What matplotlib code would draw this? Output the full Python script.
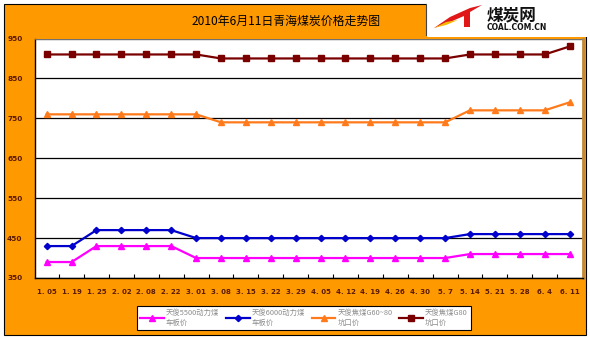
import matplotlib
matplotlib.use('Agg')
import matplotlib.pyplot as plt
from matplotlib.patches import Rectangle, Polygon
import numpy as np

plt.rcParams['font.family'] = ['Noto Sans CJK SC', 'DejaVu Sans']

# dates on the x axis
dates = ['1. 05', '1. 19', '1. 25', '2. 02', '2. 08', '2. 22', '3. 01', '3. 08',
         '3. 15', '3. 22', '3. 29', '4. 05', '4. 12', '4. 19', '4. 26', '4. 30',
         '5. 7', '5. 14', '5. 21', '5. 28', '6. 4', '6. 11']

# prices (yuan/ton)
power5500 = [390, 390, 430, 430, 430, 430, 400, 400, 400, 400, 400, 400, 400,
             400, 400, 400, 400, 410, 410, 410, 410, 410]
power6000 = [430, 430, 470, 470, 470, 470, 450, 450, 450, 450, 450, 450, 450,
             450, 450, 450, 450, 460, 460, 460, 460, 460]
coking6080 = [760, 760, 760, 760, 760, 760, 760, 740, 740, 740, 740, 740, 740,
              740, 740, 740, 740, 770, 770, 770, 770, 790]
coking80 = [910, 910, 910, 910, 910, 910, 910, 900, 900, 900, 900, 900, 900,
            900, 900, 900, 900, 910, 910, 910, 910, 930]

labels = ['天俊5500动力煤\n车板价', '天俊6000动力煤\n车板价',
          '天俊焦煤G60~80\n坑口价', '天俊焦煤G80\n坑口价']
yticks = [350, 450, 550, 650, 750, 850, 950]

W, H = 590, 339
fig = plt.figure(figsize=(W / 100, H / 100), dpi=100)
fig.patch.set_facecolor('white')

def fx(px):
    return px / W

def fy(py):
    return 1 - py / H

# orange chart background
fig.patches.append(Rectangle((fx(4), fy(335)), fx(582), 331 / H, transform=fig.transFigure,
                             facecolor='#FF9900', edgecolor='black', lw=0.8, zorder=-2))
# white logo box in the top right corner
fig.patches.append(Rectangle((fx(427), fy(37)), fx(170), 40 / H, transform=fig.transFigure,
                             facecolor='white', edgecolor='none', zorder=-1))
fig.add_artist(plt.Line2D([fx(426), fx(426)], [fy(35), fy(4)], color='#444444', lw=0.8,
                          transform=fig.transFigure, zorder=2))

# logo: red swoosh + site name
swoosh = Polygon([(fx(434), fy(28)), (fx(450), fy(17)), (fx(470), fy(8)), (fx(482), fy(5)),
                  (fx(470), fy(12)), (fx(470), fy(27)), (fx(464), fy(27)), (fx(464), fy(16)),
                  (fx(450), fy(22))],
                 closed=True, transform=fig.transFigure, facecolor='#E01818',
                 edgecolor='none', zorder=3)
fig.patches.append(swoosh)
fig.patches.append(Polygon([(fx(434), fy(28)), (fx(446), fy(22)), (fx(458), fy(20)),
                            (fx(446), fy(25))], closed=True, transform=fig.transFigure,
                           facecolor='#F5B800', edgecolor='none', zorder=3))
fig.text(fx(487), fy(15), '煤炭网', fontsize=12, fontweight='bold', color='#111111',
         ha='left', va='center', zorder=4)
fig.text(fx(487), fy(28), 'COAL.COM.CN', fontsize=5.5, fontweight='bold', color='#111111',
         ha='left', va='center', family='DejaVu Sans', zorder=4)

fig.text(fx(286), fy(21), '2010年6月11日青海煤炭价格走势图', fontsize=8.6, color='black',
         ha='center', va='center')

ax = fig.add_axes([fx(35), fy(278), fx(583 - 35), (278 - 38.5) / H])
ax.set_zorder(5)
ax.set_facecolor('white')
x = np.arange(len(dates))

ax.plot(x, power5500, color='#FF00FF', marker='^', ms=4.5, lw=1.6, label=labels[0], zorder=3)
ax.plot(x, power6000, color='#0000CC', marker='D', ms=3.2, lw=1.6, label=labels[1], zorder=3)
ax.plot(x, coking6080, color='#FF7A1A', marker='^', ms=4.5, lw=1.6, label=labels[2], zorder=3)
ax.plot(x, coking80, color='#7A0000', marker='s', ms=4.5, lw=1.6, label=labels[3], zorder=3)

ax.set_ylim(350, 950)
ax.set_xlim(-0.47, len(dates) - 0.46)
ax.set_yticks(yticks)
ax.set_yticklabels([str(v) for v in yticks])
ax.yaxis.grid(True, color='black', lw=0.9)
ax.set_axisbelow(True)
ax.tick_params(axis='y', length=0, pad=9, labelsize=5.3, labelcolor='#5A1A00')

ax.set_xticks(x)
ax.set_xticklabels(dates)
ax.set_xticks(np.arange(len(dates) - 1) + 0.5, minor=True)
ax.tick_params(axis='x', which='major', length=0, pad=8, labelsize=5.0, labelcolor='#5A1A00')
ax.tick_params(axis='x', which='minor', direction='in', length=3, width=0.8)
for lab in ax.get_xticklabels() + ax.get_yticklabels():
    lab.set_fontweight('bold')
    lab.set_family('DejaVu Sans')

for side in ['left', 'bottom']:
    ax.spines[side].set_color('black')
    ax.spines[side].set_linewidth(1.0)
ax.spines['top'].set_color('#888888')
ax.spines['top'].set_linewidth(0.6)
ax.spines['right'].set_color('#C08838')
ax.spines['right'].set_linewidth(2.0)

leg = fig.legend(loc='center', bbox_to_anchor=(fx(304), fy(318)), ncol=4, fontsize=5.3,
                 frameon=True, fancybox=False, edgecolor='black', facecolor='white',
                 framealpha=1, handlelength=3.2, handletextpad=0.3, columnspacing=0.9,
                 borderpad=0.4, labelspacing=0.2)
leg.get_frame().set_linewidth(0.8)
leg.set_zorder(6)
for t in leg.get_texts():
    t.set_color('#8C8C8C')

fig.savefig('out.png', dpi=100, facecolor=fig.get_facecolor())
